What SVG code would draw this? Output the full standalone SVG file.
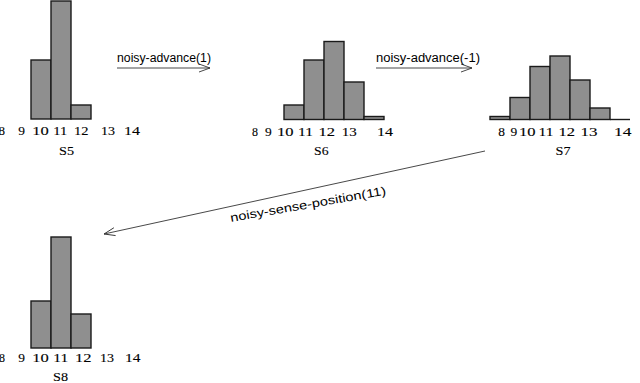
<svg xmlns="http://www.w3.org/2000/svg" width="640" height="383" viewBox="0 0 640 383">
<defs>
<style>
.bar{fill:#8f8f8f;stroke:#1a1a1a;stroke-width:1.4}
.num{font-family:"Liberation Serif","Times New Roman",serif;font-size:13px;fill:#000;stroke:#000;stroke-width:0.12}
.lab{font-family:"Liberation Sans",Arial,sans-serif;font-size:12px;fill:#000}
.conn{stroke:#333;stroke-width:0.9;fill:none}
</style>
<marker id="ah" viewBox="0 0 12 10" refX="11" refY="5" markerWidth="12" markerHeight="10" markerUnits="userSpaceOnUse" orient="auto">
<path d="M0,1 L11,5 L0,9" fill="none" stroke="#333" stroke-width="0.9"/>
</marker>
</defs>
<rect width="640" height="383" fill="#fff"/>

<g id="S5">
<rect class="bar" x="31" y="60" width="20" height="59"/>
<rect class="bar" x="51" y="1" width="20" height="118"/>
<rect class="bar" x="71" y="105" width="20" height="14"/>
<g class="num">
<text x="-1.5" y="135" textLength="6.5" lengthAdjust="spacingAndGlyphs">8</text>
<text x="18.3" y="135" textLength="6.7" lengthAdjust="spacingAndGlyphs">9</text>
<text x="32.3" y="135" textLength="16.5" lengthAdjust="spacingAndGlyphs">10</text>
<text x="53.3" y="135" textLength="14" lengthAdjust="spacingAndGlyphs">11</text>
<text x="74" y="135" textLength="14.5" lengthAdjust="spacingAndGlyphs">12</text>
<text x="101" y="135" textLength="14" lengthAdjust="spacingAndGlyphs">13</text>
<text x="124" y="135" textLength="16" lengthAdjust="spacingAndGlyphs">14</text>
<text x="59" y="154.5" textLength="15" lengthAdjust="spacingAndGlyphs">S5</text>
</g>
</g>

<g id="S6">
<rect class="bar" x="284" y="105" width="20" height="14.5"/>
<rect class="bar" x="304" y="60" width="20" height="59.5"/>
<rect class="bar" x="324" y="41.5" width="20" height="78"/>
<rect class="bar" x="344" y="82" width="20" height="37.5"/>
<rect class="bar" x="364" y="116.5" width="20" height="3"/>
<g class="num">
<text x="252" y="135.5" textLength="6" lengthAdjust="spacingAndGlyphs">8</text>
<text x="265" y="135.5" textLength="6.7" lengthAdjust="spacingAndGlyphs">9</text>
<text x="277" y="135.5" textLength="16.5" lengthAdjust="spacingAndGlyphs">10</text>
<text x="298" y="135.5" textLength="15" lengthAdjust="spacingAndGlyphs">11</text>
<text x="318.5" y="135.5" textLength="16.5" lengthAdjust="spacingAndGlyphs">12</text>
<text x="341.7" y="135.5" textLength="15" lengthAdjust="spacingAndGlyphs">13</text>
<text x="377" y="135.5" textLength="16" lengthAdjust="spacingAndGlyphs">14</text>
<text x="314" y="155" textLength="14.5" lengthAdjust="spacingAndGlyphs">S6</text>
</g>
</g>

<g id="S7">
<rect class="bar" x="490" y="116.5" width="20" height="3"/>
<rect class="bar" x="510" y="97.5" width="20" height="22"/>
<rect class="bar" x="530" y="66.5" width="20" height="53"/>
<rect class="bar" x="550" y="56" width="20" height="63.5"/>
<rect class="bar" x="570" y="80" width="20" height="39.5"/>
<rect class="bar" x="590" y="108" width="20" height="11.5"/>
<line x1="610" y1="119.5" x2="630" y2="119.5" stroke="#1a1a1a" stroke-width="1.4"/>
<g class="num">
<text x="498.3" y="135.5" textLength="6.7" lengthAdjust="spacingAndGlyphs">8</text>
<text x="510.5" y="135.5" textLength="6.7" lengthAdjust="spacingAndGlyphs">9</text>
<text x="519" y="135.5" textLength="16.5" lengthAdjust="spacingAndGlyphs">10</text>
<text x="538.5" y="135.5" textLength="15" lengthAdjust="spacingAndGlyphs">11</text>
<text x="558.5" y="135.5" textLength="16.5" lengthAdjust="spacingAndGlyphs">12</text>
<text x="580.5" y="135.5" textLength="17" lengthAdjust="spacingAndGlyphs">13</text>
<text x="614" y="135.5" textLength="17.5" lengthAdjust="spacingAndGlyphs">14</text>
<text x="555.5" y="155" textLength="15" lengthAdjust="spacingAndGlyphs">S7</text>
</g>
</g>

<g id="S8">
<rect class="bar" x="31" y="301" width="20" height="47"/>
<rect class="bar" x="51" y="237" width="20" height="111"/>
<rect class="bar" x="71" y="314" width="20" height="34"/>
<g class="num">
<text x="-1" y="361.5" textLength="6" lengthAdjust="spacingAndGlyphs">8</text>
<text x="18.3" y="361.5" textLength="6.7" lengthAdjust="spacingAndGlyphs">9</text>
<text x="32.3" y="361.5" textLength="16.5" lengthAdjust="spacingAndGlyphs">10</text>
<text x="53.3" y="361.5" textLength="15" lengthAdjust="spacingAndGlyphs">11</text>
<text x="75" y="361.5" textLength="16.5" lengthAdjust="spacingAndGlyphs">12</text>
<text x="100" y="361.5" textLength="14" lengthAdjust="spacingAndGlyphs">13</text>
<text x="125" y="361.5" textLength="15.5" lengthAdjust="spacingAndGlyphs">14</text>
<text x="53" y="381" textLength="15" lengthAdjust="spacingAndGlyphs">S8</text>
</g>
</g>

<g id="connectors">
<line class="conn" x1="117" y1="68" x2="210" y2="68" marker-end="url(#ah)"/>
<text class="lab" x="117" y="61.5" textLength="94" lengthAdjust="spacingAndGlyphs">noisy-advance(1)</text>
<line class="conn" x1="376" y1="68" x2="472" y2="68" marker-end="url(#ah)"/>
<text class="lab" x="376" y="61.5" textLength="104" lengthAdjust="spacingAndGlyphs">noisy-advance(-1)</text>
<line class="conn" x1="485" y1="151" x2="104" y2="234" marker-end="url(#ah)"/>
<text class="lab" x="231" y="222" font-size="14" textLength="158" lengthAdjust="spacingAndGlyphs" transform="rotate(-10 231 222)">noisy-sense-position(11)</text>
</g>
</svg>
